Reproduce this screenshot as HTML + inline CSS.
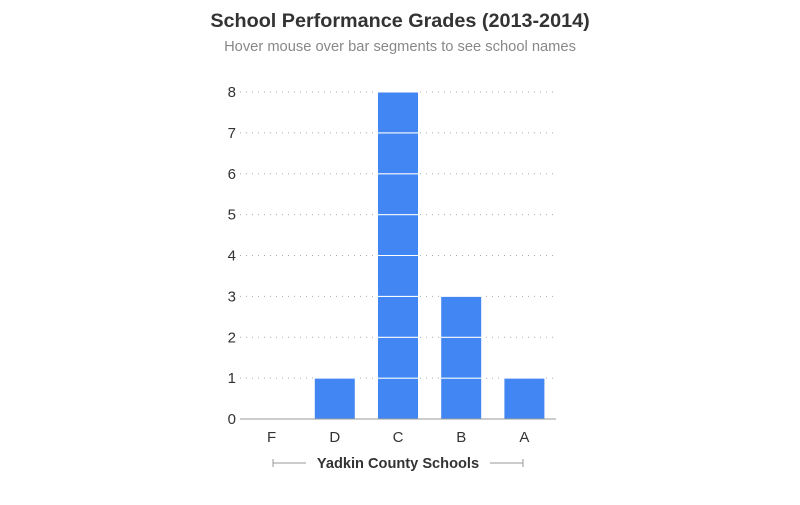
<!DOCTYPE html>
<html><head><meta charset="utf-8"><style>
body{margin:0;background:#fff;font-family:"Liberation Sans",sans-serif}
</style></head><body>
<svg id="chart" width="800" height="500" xmlns="http://www.w3.org/2000/svg">
<text x="400" y="27" text-anchor="middle" font-size="19.8" font-weight="bold" fill="#333">School Performance Grades (2013-2014)</text>
<text x="400" y="51" text-anchor="middle" font-size="14.7" fill="#888">Hover mouse over bar segments to see school names</text>
<g id="grid"></g><g id="bars"></g><g id="axes"></g>
<g stroke="#999" stroke-width="1">
<line x1="273" y1="463" x2="306" y2="463"/><line x1="273" y1="459" x2="273" y2="467"/>
<line x1="490" y1="463" x2="523" y2="463"/><line x1="523" y1="459" x2="523" y2="467"/>
<text x="398" y="468" text-anchor="middle" font-size="14.6" font-weight="bold" fill="#333" stroke="none">Yadkin County Schools</text>
</g>
</svg>
<script>
const categories=["F","D","C","B","A"];
const counts=[0,1,8,3,1];
const yTicks=[0,1,2,3,4,5,6,7,8];
const NS="http://www.w3.org/2000/svg";
const x0=240,x1=556,y0=419,yTop=92,yMax=8;
const step=(x1-x0)/categories.length,bw=41;
function y(v){return y0-(y0-yTop)*v/yMax;}
function xc(i){return x0+step*(i+0.5);}
function mk(t,a,p){const e=document.createElementNS(NS,t);for(const k in a)e.setAttribute(k,a[k]);p.appendChild(e);return e;}
const g=document.getElementById('grid'),b=document.getElementById('bars'),ax=document.getElementById('axes');
yTicks.forEach(v=>{
 if(v>0){const l=mk('line',{x1:x0,x2:x1,y1:y(v),y2:y(v),stroke:'#aaa','stroke-dasharray':'1,5'},g);
 
 }
 const t=mk('text',{x:236,y:y(v)+5,'text-anchor':'end','font-size':15,fill:'#333'},ax);t.textContent=v;
 
 
});
categories.forEach((c,i)=>{
 for(let k=0;k<counts[i];k++){
  const r=mk('rect',{x:xc(i)-bw/2,y:y(k+1),width:bw,height:y(k)-y(k+1),fill:'#4286f4',stroke:'#fff','stroke-width':1},b);
  
  
 }
 const t=mk('text',{x:xc(i),y:442,'text-anchor':'middle','font-size':15,fill:'#333'},ax);t.textContent=c;
 
 
});
const base=mk('line',{x1:x0,x2:x1,y1:y0,y2:y0,stroke:'#999','stroke-width':1},ax);


</script>
</body></html>
